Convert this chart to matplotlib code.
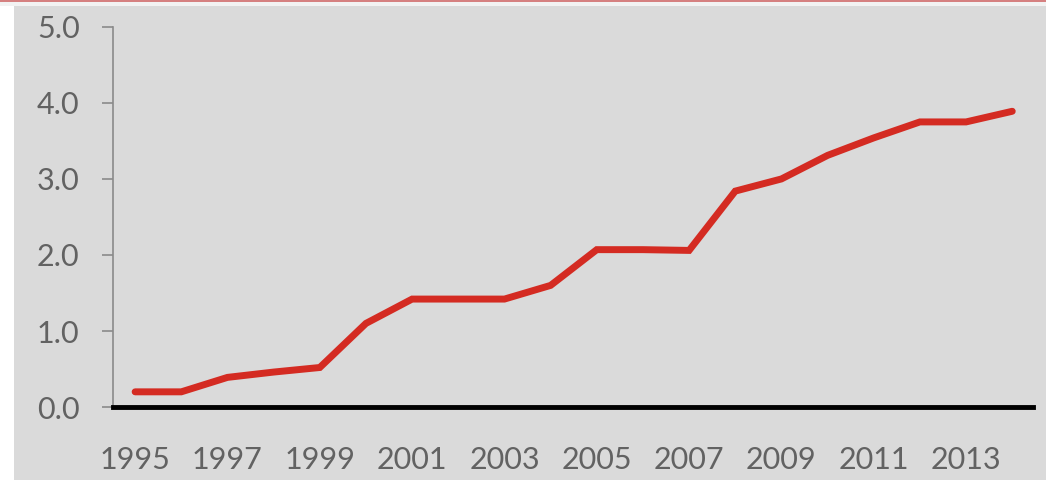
import matplotlib.pyplot as plt
from matplotlib.patches import Rectangle

# Yearly values
years = [1995, 1996, 1997, 1998, 1999, 2000, 2001, 2002, 2003, 2004,
         2005, 2006, 2007, 2008, 2009, 2010, 2011, 2012, 2013, 2014]
values = [0.20, 0.20, 0.39, 0.46, 0.52, 1.10, 1.42, 1.42, 1.42, 1.60,
          2.07, 2.07, 2.06, 2.84, 3.00, 3.31, 3.54, 3.75, 3.75, 3.89]

x_ticks = [1995, 1997, 1999, 2001, 2003, 2005, 2007, 2009, 2011, 2013]
y_ticks = [0.0, 1.0, 2.0, 3.0, 4.0, 5.0]

bg = '#dadada'
text_color = '#626262'

plt.rcParams['font.family'] = ['Lato', 'DejaVu Sans']

fig = plt.figure(figsize=(10.46, 4.8), dpi=100, facecolor=bg)
ax = fig.add_axes([0.108, 0.152, 0.8796, 0.792])
ax.set_facecolor(bg)

# White strip on the left and thin red rule at the top
fig.patches.append(Rectangle((0, 0), 14 / 1046, 1, transform=fig.transFigure,
                             facecolor='white', edgecolor='none', zorder=0))
fig.patches.append(Rectangle((0, 1 - 6 / 480), 1, 6 / 480, transform=fig.transFigure,
                             facecolor='#f2f2f2', edgecolor='none', zorder=0))
fig.patches.append(Rectangle((0, 1 - 2 / 480), 1, 2 / 480, transform=fig.transFigure,
                             facecolor='#d58080', edgecolor='none', zorder=0))

ax.plot(years, values, color='#d42b22', linewidth=5, solid_capstyle='round',
        solid_joinstyle='miter', zorder=3)

ax.set_xlim(1994.52, 2014.45)
ax.set_ylim(0, 5)
ax.set_xticks(x_ticks)
ax.set_xticklabels([str(y) for y in x_ticks])
ax.set_yticks(y_ticks)
ax.set_yticklabels([f'{v:.1f}' for v in y_ticks])

for side in ['top', 'right']:
    ax.spines[side].set_visible(False)
ax.spines['left'].set_color('#8a8a8a')
ax.spines['left'].set_linewidth(1.2)
ax.spines['bottom'].set_color('black')
ax.spines['bottom'].set_linewidth(3.5)
ax.spines['bottom'].set_zorder(4)

ax.tick_params(axis='y', length=8, width=1.2, color='#8a8a8a', pad=16,
               labelsize=22, labelcolor=text_color)
ax.tick_params(axis='x', length=0, pad=28, labelsize=22, labelcolor=text_color)

fig.savefig('out.png', dpi=100, facecolor=bg)
